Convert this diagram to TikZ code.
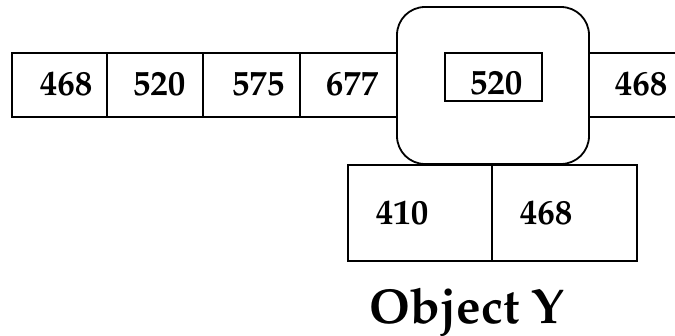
\documentclass[tikz,border=0pt]{standalone}
\usepackage[T1]{fontenc}
\usepackage{mathpazo}
\begin{document}
\begin{tikzpicture}[x=1pt,y=1pt,
  frame/.style={draw,line width=1.8pt,inner sep=0pt,outer sep=0pt,anchor=south west},
  num/.style={font=\fontsize{35}{35}\selectfont\bfseries,inner sep=0pt,anchor=base},
  title/.style={font=\fontsize{49}{49}\selectfont\bfseries,inner sep=0pt,anchor=base}]
\useasboundingbox (0,0) rectangle (675,335);
% top row of cells
\node[frame,minimum width=95pt,minimum height=64pt] (c1) at (12,218) {};
\node[frame,minimum width=96pt,minimum height=64pt] (c2) at (107,218) {};
\node[frame,minimum width=97pt,minimum height=64pt] (c3) at (203,218) {};
\node[frame,minimum width=97pt,minimum height=64pt] (c4) at (300,218) {};
\coordinate (rt) at (677,282);
\coordinate (rb) at (677,218);
\draw[line width=1.8pt] (c4.north east) -- (rt);
\draw[line width=1.8pt] (c4.south east) -- (rb);
% rounded holder with the selected cell
\node[frame,fill=white,rounded corners=28pt,minimum width=192pt,minimum height=157pt] (hold) at (397,171) {};
\node[frame,line width=1.5pt,minimum width=97pt,minimum height=48pt] (sel) at (445,234) {};
% lower pair of cells
\node[frame,minimum width=144pt,minimum height=96pt] (b1) at (348,74) {};
\node[frame,minimum width=145pt,minimum height=96pt] (b2) at (492,74) {};
% labels
\node[num] (t1) at (66,239) {468};
\node[num] (t2) at (159,239) {520};
\node[num] (t3) at (258,239) {575};
\node[num] (t4) at (352,239) {677};
\node[num] (t5) at (496,240) {520};
\node[num] (t6) at (641,239) {468};
\node[num] (t7) at (402,110) {410};
\node[num] (t8) at (546,110) {468};
\node[title] (ty) at (467,12) {Object Y};
\end{tikzpicture}
\end{document}
